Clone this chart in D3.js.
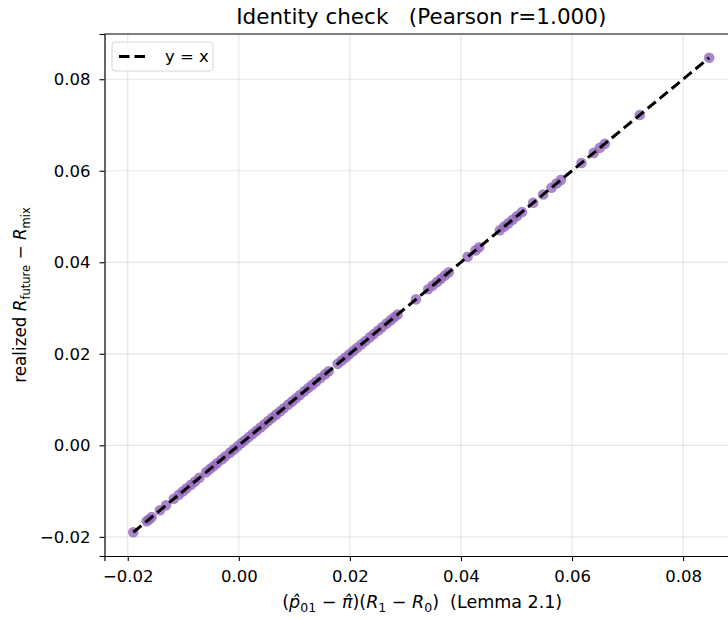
<!DOCTYPE html>
<html>
<head>
<meta charset="utf-8">
<script src="https://cdn.jsdelivr.net/npm/d3@7"></script>
<style>
  html, body { margin: 0; padding: 0; background: #fff; }
  svg { display: block; font-family: "DejaVu Sans", sans-serif; }
</style>
</head>
<body>
<script>
// predicted gap (Lemma 2.1) vs realized gap, one point per run
var xs = [-0.0190, -0.0166, -0.0162, -0.0157, -0.0142, -0.0131, -0.0117, -0.0108, -0.0101, -0.0094,
  -0.0086, -0.0079, -0.0071, -0.0059, -0.0052, -0.0046, -0.0039, -0.0031, -0.0024, -0.0016,
  -0.0009, -0.0002, 0.0005, 0.0011, 0.0018, 0.0025, 0.0032, 0.0039, 0.0046, 0.0053,
  0.0060, 0.0067, 0.0074, 0.0081, 0.0089, 0.0096, 0.0103, 0.0110, 0.0118, 0.0125,
  0.0132, 0.0139, 0.0147, 0.0155, 0.0162, 0.0178, 0.0185, 0.0192, 0.0199, 0.0206,
  0.0213, 0.0221, 0.0228, 0.0236, 0.0243, 0.0251, 0.0258, 0.0266, 0.0273, 0.0280,
  0.0286, 0.0319, 0.0341, 0.0349, 0.0357, 0.0364, 0.0371, 0.0378, 0.0412, 0.0426,
  0.0433, 0.0470, 0.0478, 0.0485, 0.0493, 0.0501, 0.0510, 0.0530, 0.0548, 0.0563,
  0.0572, 0.0580, 0.0617, 0.0639, 0.0650, 0.0659, 0.0722, 0.0847];
var ys = [-0.0190, -0.0166, -0.0162, -0.0157, -0.0142, -0.0131, -0.0117, -0.0108, -0.0101, -0.0094,
  -0.0086, -0.0079, -0.0071, -0.0059, -0.0052, -0.0046, -0.0039, -0.0031, -0.0024, -0.0016,
  -0.0009, -0.0002, 0.0005, 0.0011, 0.0018, 0.0025, 0.0032, 0.0039, 0.0046, 0.0053,
  0.0060, 0.0067, 0.0074, 0.0081, 0.0089, 0.0096, 0.0103, 0.0110, 0.0118, 0.0125,
  0.0132, 0.0139, 0.0147, 0.0155, 0.0162, 0.0178, 0.0185, 0.0192, 0.0199, 0.0206,
  0.0213, 0.0221, 0.0228, 0.0236, 0.0243, 0.0251, 0.0258, 0.0266, 0.0273, 0.0280,
  0.0286, 0.0319, 0.0341, 0.0349, 0.0357, 0.0364, 0.0371, 0.0378, 0.0412, 0.0426,
  0.0433, 0.0470, 0.0478, 0.0485, 0.0493, 0.0501, 0.0510, 0.0530, 0.0548, 0.0563,
  0.0572, 0.0580, 0.0617, 0.0639, 0.0650, 0.0659, 0.0722, 0.0847];
var xTicks = [-0.02, 0.00, 0.02, 0.04, 0.06, 0.08];
var yTicks = [-0.02, 0.00, 0.02, 0.04, 0.06, 0.08];
var titleText = "Identity check\u00a0\u00a0\u00a0(Pearson r=1.000)";
var legendLabel = "y = x";

var W = 728, H = 619;
var margin = {left: 104.5, top: 34, right: -10, bottom: 63};
var w = W - margin.left - margin.right;
var h = H - margin.top - margin.bottom;

var svg = d3.select("body").append("svg").attr("width", W).attr("height", H);
var defs = svg.append("defs");
defs.append("clipPath").attr("id", "clip")
  .append("rect").attr("width", w).attr("height", h);

var g = svg.append("g").attr("transform", "translate(" + margin.left + "," + margin.top + ")");

// matplotlib style 5% padding
function padded(a, b) { var p = (b - a) * 0.05; return [a - p, b + p]; }
var lo = Math.min(d3.min(xs), d3.min(ys)), hi = Math.max(d3.max(xs), d3.max(ys));
var x = d3.scaleLinear().domain(padded(d3.min(xs), d3.max(xs))).range([0, w]);
var y = d3.scaleLinear().domain(padded(d3.min(ys), d3.max(ys))).range([h, 0]);

var fmt = function(d) { return d3.format(".2f")(d).replace("-", "\u2212"); };

// grid
g.append("g").selectAll("line").data(xTicks).join("line")
  .attr("x1", d => x(d)).attr("x2", d => x(d)).attr("y1", 0).attr("y2", h)
  .attr("stroke", "#b0b0b0").attr("stroke-opacity", 0.3).attr("stroke-width", 1.2);
g.append("g").selectAll("line").data(yTicks).join("line")
  .attr("y1", d => y(d)).attr("y2", d => y(d)).attr("x1", 0).attr("x2", w)
  .attr("stroke", "#b0b0b0").attr("stroke-opacity", 0.3).attr("stroke-width", 1.2);

var pts = xs.map(function(v, i) { return {x: v, y: ys[i]}; });

var plot = g.append("g").attr("clip-path", "url(#clip)");
plot.selectAll("circle").data(pts).join("circle")
  .attr("cx", d => x(d.x)).attr("cy", d => y(d.y)).attr("r", 5.3)
  .attr("fill", "#9467bd").attr("fill-opacity", 0.8);

plot.append("line")
  .attr("x1", x(lo)).attr("y1", y(lo)).attr("x2", x(hi)).attr("y2", y(hi))
  .attr("stroke", "#000").attr("stroke-width", 3)
  .attr("stroke-dasharray", "10.5,5");

// axes
var xAxis = g.append("g").attr("transform", "translate(0," + h + ")")
  .call(d3.axisBottom(x).tickValues(xTicks).tickFormat(fmt).tickSizeOuter(0).tickSize(5).tickPadding(9));
var yAxis = g.append("g")
  .call(d3.axisLeft(y).tickValues(yTicks).tickFormat(fmt).tickSizeOuter(0).tickSize(5).tickPadding(9));
[xAxis, yAxis].forEach(function(a) {
  a.attr("font-size", null).attr("font-family", null);
  a.selectAll("text").style("font-size", "16.5px").style("font-family", "DejaVu Sans").attr("fill", "#000");
  a.selectAll("line").attr("stroke", "#000").attr("stroke-width", 1.1);
  a.select(".domain").attr("stroke", "#000").attr("stroke-width", 1.2);
});
// top spine
g.append("line").attr("x1", 0).attr("x2", w).attr("y1", 0).attr("y2", 0)
  .attr("stroke", "#000").attr("stroke-width", 1.2);

// title
svg.append("text").attr("x", margin.left + w / 2).attr("y", 24)
  .attr("text-anchor", "middle").style("font-size", "21.5px").text(titleText);

// x label: (p̂01 − π̂)(R1 − R0)  (Lemma 2.1)
var xl = svg.append("text").attr("x", margin.left + w / 2 + 1).attr("y", 608)
  .attr("text-anchor", "middle").style("font-size", "17.5px");
xl.append("tspan").text("(");
xl.append("tspan").attr("font-style", "italic").text("p\u0302");
xl.append("tspan").style("font-size", "12.5px").attr("dy", 3.5).text("01");
xl.append("tspan").attr("dy", -3.5).text(" \u2212 ");
xl.append("tspan").attr("font-style", "italic").text("\u03c0\u0302");
xl.append("tspan").text(")(");
xl.append("tspan").attr("font-style", "italic").text("R");
xl.append("tspan").style("font-size", "12.5px").attr("dy", 3.5).text("1");
xl.append("tspan").attr("dy", -3.5).text(" \u2212 ");
xl.append("tspan").attr("font-style", "italic").text("R");
xl.append("tspan").style("font-size", "12.5px").attr("dy", 3.5).text("0");
xl.append("tspan").attr("dy", -3.5).text(")\u00a0\u00a0(Lemma 2.1)");

// y label: realized R_future − R_mix
var yl = svg.append("text")
  .attr("transform", "translate(26," + (margin.top + h / 2) + ") rotate(-90)")
  .attr("text-anchor", "middle").style("font-size", "16.8px");
yl.append("tspan").text("realized ");
yl.append("tspan").attr("font-style", "italic").text("R");
yl.append("tspan").style("font-size", "11.5px").attr("dy", 3.5).text("future");
yl.append("tspan").attr("dy", -3.5).text(" \u2212 ");
yl.append("tspan").attr("font-style", "italic").text("R");
yl.append("tspan").style("font-size", "11.5px").attr("dy", 3.5).text("mix");

// legend
var lg = g.append("g").attr("transform", "translate(7.5,8)");
lg.append("rect").attr("width", 101).attr("height", 29).attr("rx", 3)
  .attr("fill", "#fff").attr("fill-opacity", 0.8).attr("stroke", "#d6d6d6").attr("stroke-width", 1);
lg.append("line").attr("x1", 7).attr("x2", 38).attr("y1", 14.5).attr("y2", 14.5)
  .attr("stroke", "#000").attr("stroke-width", 3).attr("stroke-dasharray", "10.5,5");
lg.append("text").attr("x", 53).attr("y", 20).style("font-size", "16.5px").text(legendLabel);
</script>
</body>
</html>
